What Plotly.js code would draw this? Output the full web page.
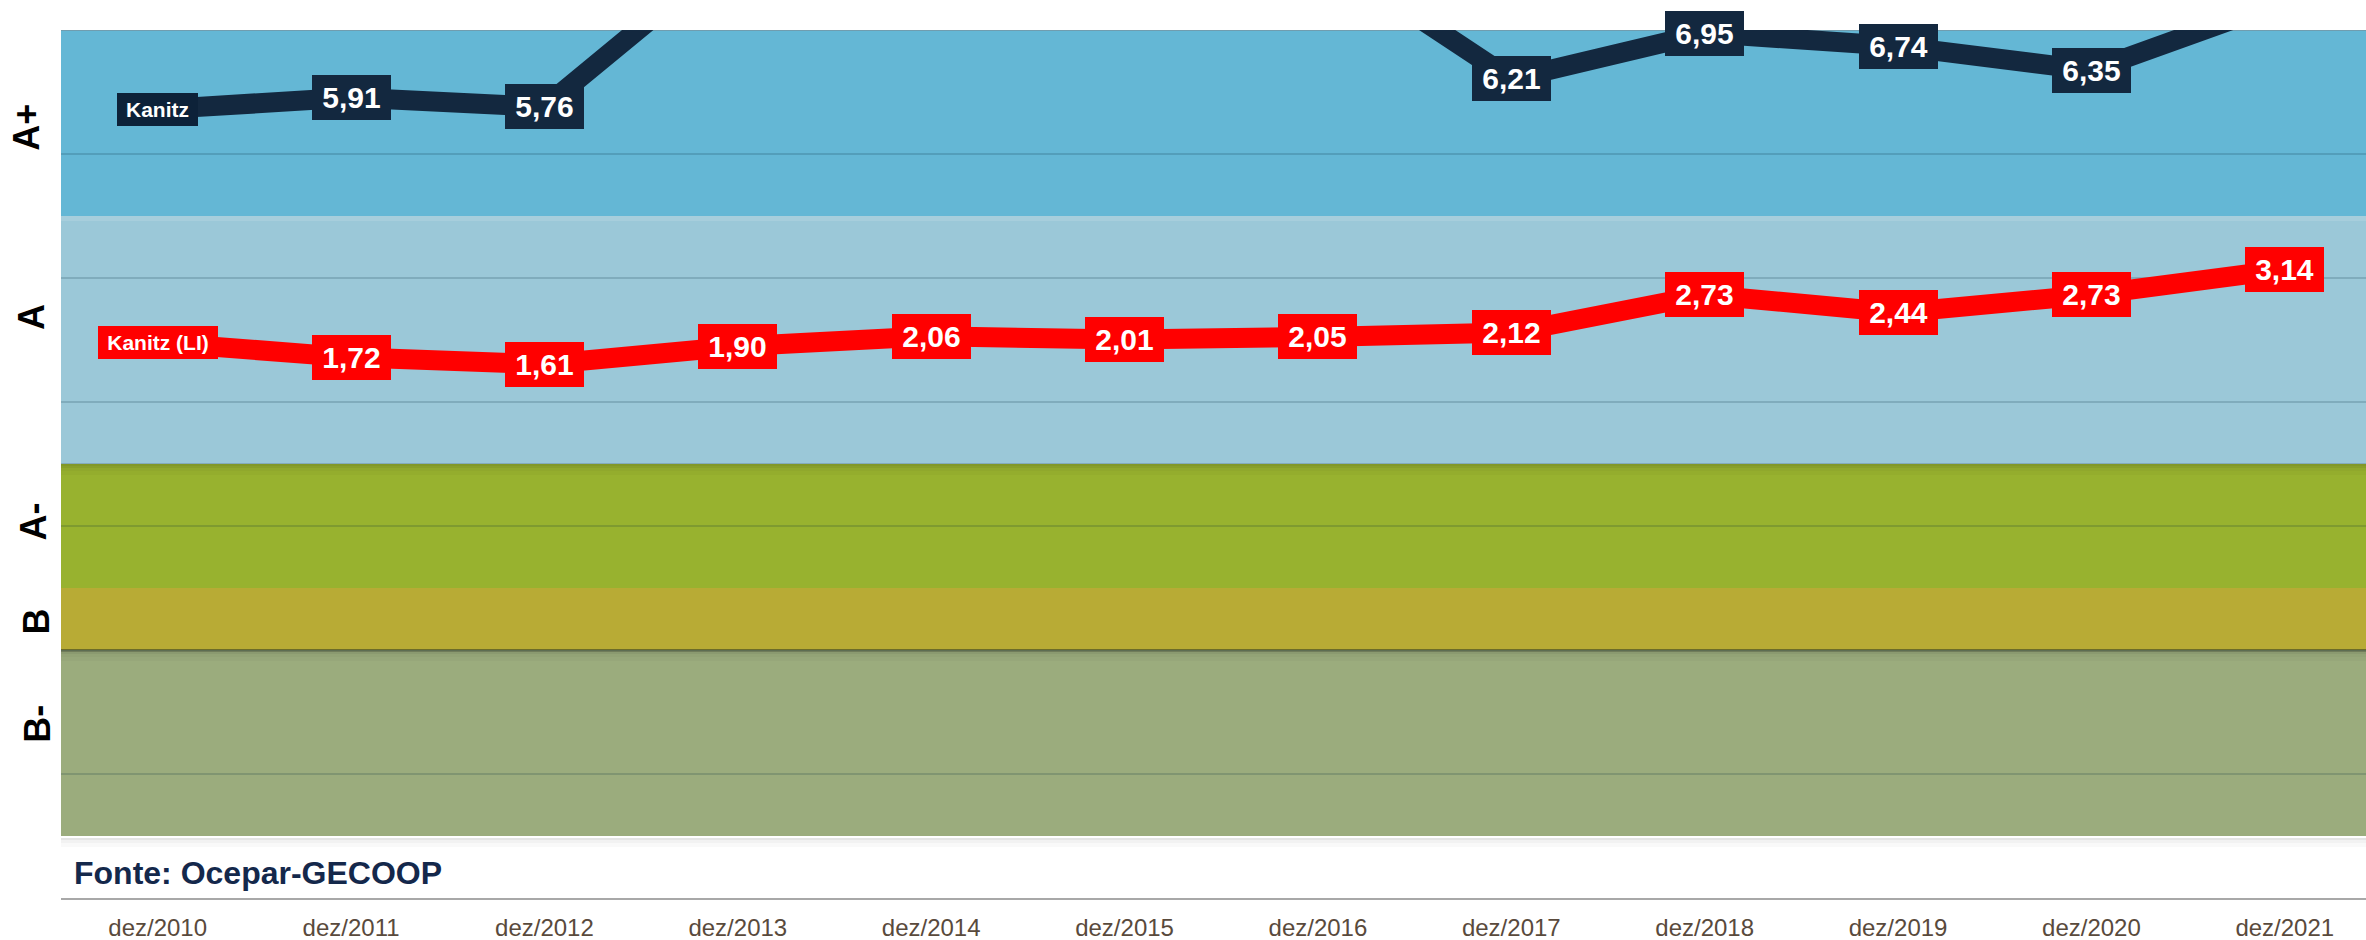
<!DOCTYPE html>
<html><head><meta charset="utf-8">
<script src="https://cdn.plot.ly/plotly-3.0.1.min.js"></script>
<style>html,body{margin:0;padding:0;background:#fff}#chart{width:2366px;height:940px}</style>
</head><body><div id="chart"></div>
<script>
// ---- data ----
const categories = ['dez/2010','dez/2011','dez/2012','dez/2013','dez/2014','dez/2015','dez/2016','dez/2017','dez/2018','dez/2019','dez/2020','dez/2021'];
const kanitz   = [5.72, 5.91, 5.76, 8.33, 8.50, 8.60, 8.27, 6.21, 6.95, 6.74, 6.35, 7.47];
const kanitzLI = [1.96, 1.72, 1.61, 1.90, 2.06, 2.01, 2.05, 2.12, 2.73, 2.44, 2.73, 3.14];
const seriesNames = ['Kanitz', 'Kanitz (LI)'];
const bandNames  = ['A+', 'A', 'A-', 'B', 'B-'];
const bandLower  = [4, 0, -2, -3, -6];
const bandUpper  = [7, 4, 0, -2, -3];
const sourceText = 'Fonte: Ocepar-GECOOP';

// ---- styles ----
const FONT = 'Liberation Sans, Arial, sans-serif';
const bandColors = ['#64b7d5', '#9bc8d8', '#98b22f', '#b8ab35', '#9bac7d'];
const bandLabelPos = [{x: 27, y: 127.7}, {x: 31, y: 317}, {x: 33.7, y: 521.7}, {x: 36.7, y: 621.7}, {x: 36.7, y: 724}];
const seriesColors = ['#13283f', '#ff0000'];
const Y_MIN = -7, Y_MAX = 7;
const M = {l: 61, r: 0, t: 30, b: 42};
const W = 2366, H = 940;
const plotW = W - M.l - M.r, plotH = H - M.t - M.b;
const pxToY = py => Y_MAX - (py - M.t) / plotH * (Y_MAX - Y_MIN);
const pxToPaperX = px => (px - M.l) / plotW;
const fmt = v => v.toFixed(2).replace('.', ',');

const traces = [kanitz, kanitzLI].map((vals, i) => ({
  type: 'scatter', mode: 'lines', x: categories, y: vals, name: seriesNames[i],
  line: {color: seriesColors[i], width: 20}, hoverinfo: 'skip', showlegend: false
}));

const shapes = [];
bandNames.forEach((b, i) => {
  shapes.push({type: 'rect', layer: 'below', xref: 'paper', yref: 'y', x0: 0, x1: 1,
    y0: bandLower[i], y1: bandUpper[i], fillcolor: bandColors[i], line: {width: 0}});
});
// highlight at top of band A
shapes.push({type: 'rect', layer: 'below', xref: 'paper', yref: 'y', ysizemode: 'pixel', yanchor: 4,
  x0: 0, x1: 1, y0: -5, y1: 0, fillcolor: 'rgba(255,255,255,0.12)', line: {width: 0}});
// shadows under bands
[[0, 0.14], [-3, 0.28], [-6, 0.0]].forEach(([yv, a]) => {
  if (a > 0) shapes.push({type: 'rect', layer: 'below', xref: 'paper', yref: 'y', ysizemode: 'pixel', yanchor: yv,
    x0: 0, x1: 1, y0: -2, y1: 1, fillcolor: `rgba(0,0,0,${a})`, line: {width: 0}});
  [[-2, -4, 0.10], [-4, -7, 0.05], [-7, -11, 0.025]].forEach(([a0, a1, op]) => {
    shapes.push({type: 'rect', layer: 'below', xref: 'paper', yref: 'y', ysizemode: 'pixel', yanchor: yv,
      x0: 0, x1: 1, y0: a1, y1: a0, fillcolor: `rgba(0,0,0,${op})`, line: {width: 0}});
  });
});
shapes.push({type: 'line', layer: 'below', xref: 'paper', yref: 'y', x0: 0, x1: 1, y0: Y_MAX, y1: Y_MAX,
  line: {color: 'rgba(120,140,150,0.6)', width: 2}});

const annotations = [];
// data labels
[kanitz, kanitzLI].forEach((vals, s) => {
  vals.forEach((v, i) => {
    if (v > Y_MAX) return;
    const first = i === 0;
    annotations.push({
      x: categories[i], y: v, xref: 'x', yref: 'y', showarrow: false,
      text: first ? seriesNames[s] : fmt(v),
      font: {family: FONT, size: first ? 21 : 30, color: '#ffffff', weight: 'bold'},
      bgcolor: s === 0 ? (first ? '#0d2239' : seriesColors[0]) : seriesColors[1],
      borderwidth: 0, borderpad: 0,
      width: first ? (s === 0 ? 81 : 120) : 79,
      height: first ? 32.5 : 45,
      xanchor: 'center', yanchor: 'middle'
    });
  });
});
// band labels
bandNames.forEach((b, i) => {
  annotations.push({
    xref: 'paper', yref: 'y', x: pxToPaperX(bandLabelPos[i].x), y: pxToY(bandLabelPos[i].y),
    text: b, showarrow: false, textangle: -90, xanchor: 'center', yanchor: 'middle',
    font: {family: FONT, size: 36, color: '#000000', weight: 'bold'}
  });
});
// source
annotations.push({
  xref: 'paper', yref: 'y', x: pxToPaperX(72), y: pxToY(872.5), xanchor: 'left', yanchor: 'middle',
  text: '<b>' + sourceText + '</b>', showarrow: false,
  font: {family: FONT, size: 32, color: '#14284b'}
});

const layout = {
  width: W, height: H, margin: M, paper_bgcolor: '#ffffff', plot_bgcolor: '#ffffff',
  showlegend: false, hovermode: false,
  xaxis: {type: 'category', range: [-0.5, 11.42], showgrid: false, zeroline: false,
    showline: true, linecolor: '#a8a8a8', linewidth: 2, ticks: '', ticklabelstandoff: 7,
    tickfont: {family: FONT, size: 24, color: '#594a3c'}, fixedrange: true},
  yaxis: {range: [Y_MIN, Y_MAX], tick0: 1, dtick: 2, showticklabels: false, ticks: '',
    showgrid: true, gridcolor: 'rgba(0,35,55,0.17)', gridwidth: 2, zeroline: false, showline: false, fixedrange: true},
  shapes: shapes, annotations: annotations
};

Plotly.newPlot('chart', traces, layout, {displayModeBar: false, staticPlot: true});
</script>
</body></html>
